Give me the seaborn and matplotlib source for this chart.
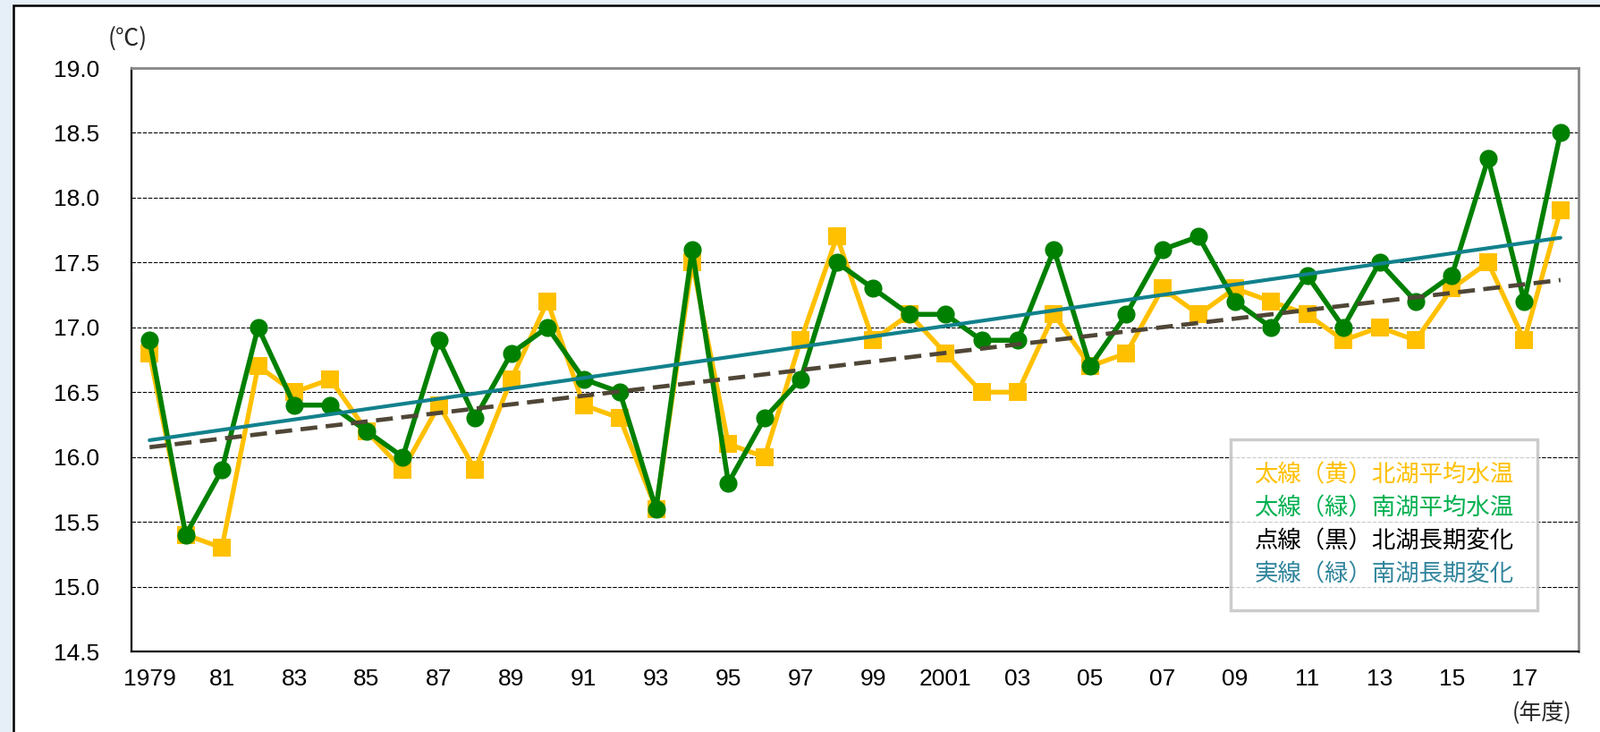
import numpy as np
import pandas as pd
import matplotlib
matplotlib.use("Agg")
import matplotlib.pyplot as plt
from matplotlib.patches import Rectangle
from matplotlib.lines import Line2D
import seaborn as sns

# ---------------- data ----------------
years = list(range(1979, 2019))
north_temp = [16.8, 15.4, 15.3, 16.7, 16.5, 16.6, 16.2, 15.9, 16.4, 15.9,
              16.6, 17.2, 16.4, 16.3, 15.6, 17.5, 16.1, 16.0, 16.9, 17.7,
              16.9, 17.1, 16.8, 16.5, 16.5, 17.1, 16.7, 16.8, 17.3, 17.1,
              17.3, 17.2, 17.1, 16.9, 17.0, 16.9, 17.3, 17.5, 16.9, 17.9]
south_temp = [16.9, 15.4, 15.9, 17.0, 16.4, 16.4, 16.2, 16.0, 16.9, 16.3,
              16.8, 17.0, 16.6, 16.5, 15.6, 17.6, 15.8, 16.3, 16.6, 17.5,
              17.3, 17.1, 17.1, 16.9, 16.9, 17.6, 16.7, 17.1, 17.6, 17.7,
              17.2, 17.0, 17.4, 17.0, 17.5, 17.2, 17.4, 18.3, 17.2, 18.5]
xtick_years = list(range(1979, 2018, 2))
xtick_labels = ["1979", "81", "83", "85", "87", "89", "91", "93", "95", "97",
                "99", "2001", "03", "05", "07", "09", "11", "13", "15", "17"]
ytick_values = [14.5, 15.0, 15.5, 16.0, 16.5, 17.0, 17.5, 18.0, 18.5, 19.0]
legend_labels = ["太線（黄）北湖平均水温", "太線（緑）南湖平均水温",
                 "点線（黒）北湖長期変化", "実線（緑）南湖長期変化"]

df = pd.DataFrame({"year": years, "north": north_temp, "south": south_temp})

# ---------------- style ----------------
sns.set_style("white")
plt.rcParams["font.family"] = ["Liberation Sans", "Noto Sans CJK JP", "DejaVu Sans"]

YELLOW = "#FFC000"
GREEN = "#008000"
TEAL = "#11818C"
DASH = "#4F4636"

W, H = 1790, 818
fig = plt.figure(figsize=(W / 100, H / 100), dpi=100)
fig.patch.set_facecolor("#E6EEF8")
frame = Rectangle((15 / W, -0.2), 1.5, 1.2 - 6 / H,
                  transform=fig.transFigure, facecolor="white",
                  edgecolor="black", linewidth=1.8, zorder=-10)
fig.patches.append(frame)

ax = fig.add_axes([147 / W, 1 - 728 / H, (1765 - 147) / W, (728 - 76) / H])
ax.set_zorder(1)
ax.set_facecolor("white")

# data lines
sns.lineplot(data=df, x="year", y="north", ax=ax, color=YELLOW, lw=3.8,
             marker="s", markersize=15, markeredgewidth=0, zorder=3)
sns.lineplot(data=df, x="year", y="south", ax=ax, color=GREEN, lw=4.0,
             marker="o", markersize=14.5, markeredgewidth=0, zorder=4)

# trend lines (linear regression of each series)
sns.regplot(data=df, x="year", y="north", ax=ax, scatter=False, ci=None,
            truncate=True,
            line_kws={"color": DASH, "lw": 3.4, "linestyle": (0, (4, 2)), "zorder": 5})
sns.regplot(data=df, x="year", y="south", ax=ax, scatter=False, ci=None,
            truncate=True,
            line_kws={"color": TEAL, "lw": 3.0, "zorder": 6})

# axes
ax.set_xlim(1978.5, 2018.5)
ax.set_ylim(14.5, 19.0)
ax.set_xlabel("")
ax.set_ylabel("")
ax.set_yticks(ytick_values)
ax.set_yticklabels([f"{v:.1f}" for v in ytick_values])
ax.set_xticks(xtick_years)
ax.set_xticklabels(xtick_labels)
ax.set_xticks([y + 0.5 for y in range(1979, 2018)], minor=True)

ax.tick_params(axis="y", length=0, pad=26, labelsize=19, colors="black")
ax.tick_params(axis="x", which="major", length=0, pad=14, labelsize=19,
               colors="black")
ax.tick_params(axis="x", which="minor", direction="in", length=6, width=1.5,
               color="black")

ax.grid(False)
ax.yaxis.grid(True, linestyle=(0, (4, 1.5)), color="black", lw=0.8)
ax.set_axisbelow(True)

for side in ["left", "bottom"]:
    ax.spines[side].set_color("black")
    ax.spines[side].set_linewidth(1.6)
for side in ["top", "right"]:
    ax.spines[side].set_color("#888888")
    ax.spines[side].set_linewidth(2.0)
    ax.spines[side].set_visible(True)

# unit labels
fig.text(143 / W, 1 - 43 / H, "(℃)", fontsize=19, ha="center", va="center",
         family=["Noto Sans CJK JP", "DejaVu Sans"])
fig.text(1724 / W, 1 - 797 / H, "(年度)", fontsize=18, ha="center", va="center",
         family=["Noto Sans CJK JP", "DejaVu Sans"])

# legend (text only)
handles = [Line2D([], [], linestyle="none") for _ in legend_labels]
leg = ax.legend(handles, legend_labels, loc="lower right",
                bbox_to_anchor=(0.9716, 0.0706), frameon=True, fancybox=False,
                handlelength=0, handletextpad=0, borderpad=1.0,
                labelspacing=0.38, borderaxespad=0,
                labelcolor=[YELLOW, "#00B050", "black", "#31859C"],
                prop={"family": "Noto Sans CJK JP", "size": 19})
leg.get_frame().set_edgecolor("#C0C0C0")
leg.get_frame().set_linewidth(2.5)
leg.get_frame().set_facecolor("white")
leg.set_zorder(10)

fig.savefig("out.png", dpi=100, facecolor=fig.get_facecolor())
